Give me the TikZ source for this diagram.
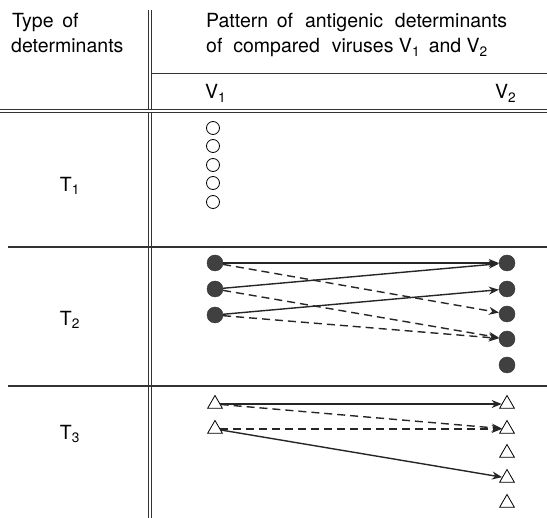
\documentclass[tikz,border=0pt]{standalone}
\usepackage{fontspec}
\setmainfont{TeX Gyre Heros}
\usetikzlibrary{arrows.meta,shapes.geometric}
\begin{document}
\begin{tikzpicture}[x=1pt,y=-1pt,font=\fontsize{19.5}{24}\selectfont]
    \tikzset{opendet/.style = {circle,draw=black,thick,minimum size=13pt,inner sep=0pt},
             fulldet/.style = {circle,draw=black!80,fill=black!75,minimum size=16pt,inner sep=0pt},
             tridet/.style = {regular polygon,regular polygon sides=3,draw=black,thick,minimum size=17pt,inner sep=0pt},
             link/.style = {line width=1.4pt,black!85,-{Stealth[length=10pt,width=8pt]}},
             cross/.style = {link,dash pattern=on 8pt off 5pt},
             rule/.style = {line width=1.6pt,black!80},
             dblrule/.style = {line width=0.8pt,black!80,double,double distance=2pt},
             txt/.style = {anchor=base west,inner sep=0pt}}
    \useasboundingbox (0,0) rectangle (547,518);
    \def\l{215}
    \def\r{507}
    % header
    \node[txt] (type) at (12,28) {Type \,of};
    \node[txt] (det) at (11,53) {determinants};
    \node[txt] (pat) at (206,28) {Pattern \,of \,\,antigenic \,\,determinants};
    \node[txt] (cmp) at (206,53) {of \ compared \,\,viruses V\textsubscript{1} \,and V\textsubscript{2}};
    \node[txt] (V1) at (205,99) {V\textsubscript{1}};
    \node[txt] (V2) at (495,99) {V\textsubscript{2}};
    % rules
    \draw[dblrule] (150,10) -- (150,518);
    \draw[dblrule] (0,111) -- (547,111);
    \draw[rule,line width=1pt] (151,74) -- (547,74);
    \draw[rule] (8,247) -- (547,247);
    \draw[rule] (8,386) -- (547,386);
    % type labels
    \node (T1) at (70,186) {T\textsubscript{1}};
    \node (T2) at (70,320) {T\textsubscript{2}};
    \node (T3) at (70,434) {T\textsubscript{3}};
    % T1
    \node[opendet] (O1) at (\l-2,128) {};
    \node[opendet] (O2) at (\l-2,146) {};
    \node[opendet] (O3) at (\l-2,165) {};
    \node[opendet] (O4) at (\l-2,183) {};
    \node[opendet] (O5) at (\l-2,202) {};
    % T2
    \node[fulldet] (P1) at (\l,263) {};
    \node[fulldet] (P2) at (\l,289) {};
    \node[fulldet] (P3) at (\l,315) {};
    \node[fulldet] (Q1) at (\r,263) {};
    \node[fulldet] (Q2) at (\r,289) {};
    \node[fulldet] (Q3) at (\r,314) {};
    \node[fulldet] (Q4) at (\r,339) {};
    \node[fulldet] (Q5) at (\r,365) {};

    \draw[link](P1) --(Q1);
    \draw[link](P2) --(Q1);
    \draw[link](P3) --(Q2);
    \draw[cross](P1) --(Q3);
    \draw[cross](P2) --(Q4);
    \draw[cross](P3) --(Q4);
    % T3
    \node[tridet] (S1) at (\l,404) {};
    \node[tridet] (S2) at (\l,429) {};
    \node[tridet] (U1) at (\r,404) {};
    \node[tridet] (U2) at (\r,429) {};
    \node[tridet] (U3) at (\r,453) {};
    \node[tridet] (U4) at (\r,478) {};
    \node[tridet] (U5) at (\r,503) {};

    \draw[link](S1) --(U1);
    \draw[cross](S1) --(U2);
    \draw[cross](S2) --(U2);
    \draw[link](S2) --(U4);
\end{tikzpicture}
\end{document}
